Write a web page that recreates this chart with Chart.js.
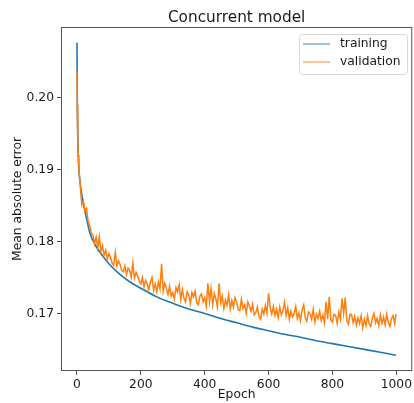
<!DOCTYPE html>
<html>
<head>
<meta charset="utf-8">
<script src="https://cdn.jsdelivr.net/npm/chart.js@4.4.0/dist/chart.umd.min.js"></script>
<style>
  html, body { margin: 0; padding: 0; background: #fff; }
  #wrap { width: 414px; height: 403px; }
</style>
</head>
<body>
<div id="wrap"><canvas id="myChart" width="414" height="403"></canvas></div>
<script>
// values
const trainEpoch = [0, 1, 2, 3, 4, 6, 9, 14, 20, 30, 41, 60, 82, 100, 130, 165, 200, 250, 300, 350,
    400, 450, 500, 550, 600, 650, 700, 750, 800, 850, 900, 950, 999];
const trainMae = [0.2076, 0.2000, 0.1962, 0.1938, 0.1920, 0.1900, 0.1885, 0.1868, 0.1853, 0.1832,
    0.1811, 0.1793, 0.1779, 0.1769, 0.1756, 0.1744, 0.1735, 0.1723, 0.1714, 0.1706,
    0.1700, 0.1693, 0.1687, 0.1681, 0.1676, 0.1671, 0.1667, 0.1662, 0.1658, 0.1654, 0.1650, 0.1646, 0.1642];

const valEpoch = [0, 1, 2, 3, 4, 6, 8,
    10, 15, 20, 25, 30, 35, 40, 45,
    50, 55, 60, 65, 70, 75, 80, 85, 90, 95,
    100, 105, 110, 115, 120, 125, 130, 135, 140, 145,
    150, 155, 160, 165, 170, 175, 180, 185, 190, 195,
    200, 205, 210, 215, 220, 225, 230, 235, 240, 245,
    250, 255, 260, 265, 270, 275, 280, 285, 290, 295,
    300, 305, 310, 315, 320, 325, 330, 335, 340, 345,
    350, 355, 360, 365, 370, 375, 380, 385, 390, 395,
    400, 405, 410, 415, 420, 425, 430, 435, 440, 445,
    450, 455, 460, 465, 470, 475, 480, 485, 490, 495,
    500, 505, 510, 515, 520, 525, 530, 535, 540, 545,
    550, 555, 560, 565, 570, 575, 580, 585, 590, 595,
    600, 605, 610, 615, 620, 625, 630, 635, 640, 645,
    650, 655, 660, 665, 670, 675, 680, 685, 690, 695,
    700, 705, 710, 715, 720, 725, 730, 735, 740, 745,
    750, 755, 760, 765, 770, 775, 780, 785, 790, 795,
    800, 805, 810, 815, 820, 825, 830, 835, 840, 845,
    850, 855, 860, 865, 870, 875, 880, 885, 890, 895,
    900, 905, 910, 915, 920, 925, 930, 935, 940, 945,
    950, 955, 960, 965, 970, 975, 980, 985, 990, 995, 999];
const valMae = [0.2036, 0.1990, 0.1958, 0.1935, 0.1920, 0.1902, 0.1890,
    0.1880, 0.1851, 0.1856, 0.1842, 0.1846, 0.1828, 0.1822, 0.1812,
    0.1809, 0.1797, 0.1806, 0.1791, 0.1807, 0.1786, 0.1794, 0.1781, 0.1788, 0.1776,
    0.1783, 0.1778, 0.1770, 0.1767, 0.1785, 0.1766, 0.1773, 0.1768, 0.1760, 0.1758,
    0.1766, 0.1754, 0.1763, 0.1760, 0.1750, 0.1770, 0.1749, 0.1757, 0.1752, 0.1745,
    0.1741, 0.1750, 0.1737, 0.1746, 0.1741, 0.1733, 0.1744, 0.1750, 0.1732, 0.1741,
    0.1730, 0.1744, 0.1734, 0.1769, 0.1731, 0.1742, 0.1735, 0.1726, 0.1738, 0.1724,
    0.1729, 0.1720, 0.1736, 0.1730, 0.1740, 0.1719, 0.1733, 0.1721, 0.1716, 0.1730,
    0.1726, 0.1714, 0.1729, 0.1723, 0.1731, 0.1715, 0.1712, 0.1724, 0.1727, 0.1716,
    0.1722, 0.1710, 0.1742, 0.1716, 0.1735, 0.1712, 0.1728, 0.1720, 0.1709, 0.1742,
    0.1715, 0.1724, 0.1707, 0.1719, 0.1711, 0.1726, 0.1706, 0.1718, 0.1709, 0.1722,
    0.1716, 0.1705, 0.1704, 0.1720, 0.1707, 0.1712, 0.1700, 0.1716, 0.1710, 0.1703,
    0.1713, 0.1698, 0.1701, 0.1709, 0.1696, 0.1692, 0.1706, 0.1699, 0.1711, 0.1700,
    0.1728, 0.1708, 0.1699, 0.1710, 0.1697, 0.1706, 0.1694, 0.1709, 0.1698, 0.1704,
    0.1716, 0.1697, 0.1708, 0.1692, 0.1703, 0.1695, 0.1700, 0.1710, 0.1693, 0.1701,
    0.1690, 0.1705, 0.1712, 0.1694, 0.1689, 0.1702, 0.1700, 0.1692, 0.1706, 0.1688,
    0.1699, 0.1693, 0.1703, 0.1690, 0.1698, 0.1687, 0.1716, 0.1692, 0.1723, 0.1691,
    0.1688, 0.1699, 0.1697, 0.1686, 0.1702, 0.1692, 0.1721, 0.1700, 0.1722, 0.1690,
    0.1685, 0.1699, 0.1698, 0.1687, 0.1696, 0.1684, 0.1694, 0.1686, 0.1697, 0.1680,
    0.1692, 0.1683, 0.1697, 0.1685, 0.1682, 0.1694, 0.1700, 0.1687, 0.1693, 0.1683,
    0.1698, 0.1686, 0.1695, 0.1684, 0.1699, 0.1687, 0.1682, 0.1693, 0.1697, 0.1686, 0.1699];

const xTicks = [0, 200, 400, 600, 800, 1000];
const yTicks = [0.17, 0.18, 0.19, 0.20];

const FONT = 'DejaVu Sans';
const TXT = '#1a1a1a';
const SPINE = '#555';

function pts(xs, ys) {
    return xs.map((x, i) => ({ x: x, y: ys[i] }));
}

// title, frame, axis titles and legend drawn matplotlib-style
const decor = {
    id: 'decor',
    afterDraw(chart) {
        const ctx = chart.ctx;
        const a = chart.chartArea;
        ctx.save();
        ctx.strokeStyle = SPINE;
        ctx.lineWidth = 1;
        ctx.strokeRect(a.left + 0.5, a.top + 0.5, a.right - a.left - 1, a.bottom - a.top - 1);

        ctx.fillStyle = TXT;
        ctx.textAlign = 'center';
        ctx.textBaseline = 'middle';
        ctx.font = '15.3px "' + FONT + '"';
        ctx.fillText('Concurrent model', (a.left + a.right) / 2, 18);

        ctx.font = '12.3px "' + FONT + '"';
        ctx.fillText('Epoch', (a.left + a.right) / 2, 395);
        ctx.save();
        ctx.translate(18, (a.top + a.bottom) / 2);
        ctx.rotate(-Math.PI / 2);
        ctx.fillText('Mean absolute error', 0, 0);
        ctx.restore();

        // legend
        const bx = 299.5, by = 34.5, bw = 108, bh = 40, r = 3;
        ctx.beginPath();
        ctx.moveTo(bx + r, by);
        ctx.arcTo(bx + bw, by, bx + bw, by + bh, r);
        ctx.arcTo(bx + bw, by + bh, bx, by + bh, r);
        ctx.arcTo(bx, by + bh, bx, by, r);
        ctx.arcTo(bx, by, bx + bw, by, r);
        ctx.closePath();
        ctx.fillStyle = 'rgba(255,255,255,0.8)';
        ctx.fill();
        ctx.strokeStyle = '#d6d6d6';
        ctx.stroke();

        ctx.textAlign = 'left';
        ctx.fillStyle = TXT;
        chart.data.datasets.forEach((ds, i) => {
            const y = 44 + i * 18;
            ctx.strokeStyle = ds.borderColor;
            ctx.globalAlpha = 0.6;
            ctx.lineWidth = 1.5;
            ctx.beginPath();
            ctx.moveTo(303, y);
            ctx.lineTo(330, y);
            ctx.stroke();
            ctx.globalAlpha = 1;
            ctx.fillText(ds.label, 340, y);
        });
        ctx.restore();
    }
};

const ctx = document.getElementById('myChart').getContext('2d');
const myChart = new Chart(ctx, {
    type: 'line',
    data: {
        datasets: [{
            label: 'training',
            data: pts(trainEpoch, trainMae),
            borderColor: '#1f77b4',
            borderWidth: 1.6,
            pointRadius: 0,
            cubicInterpolationMode: 'monotone',
            order: 2
        }, {
            label: 'validation',
            data: pts(valEpoch, valMae),
            borderColor: '#ff7f0e',
            borderWidth: 1.5,
            pointRadius: 0,
            tension: 0,
            order: 1
        }]
    },
    options: {
        responsive: false,
        animation: false,
        devicePixelRatio: 1,
        events: [],
        layout: { padding: { top: 27, right: 1, left: 0, bottom: 0 } },
        plugins: {
            legend: { display: false },
            title: { display: false },
            tooltip: { enabled: false }
        },
        scales: {
            x: {
                type: 'linear',
                min: -50,
                max: 1050,
                afterBuildTicks: (s) => { s.ticks = xTicks.map(v => ({ value: v })); },
                afterFit: (s) => { s.height = 32; },
                grid: { drawOnChartArea: false, drawTicks: true, tickLength: 4, color: SPINE },
                border: { display: false },
                ticks: {
                    color: TXT, font: { family: FONT, size: 12.3 }, padding: 2, maxRotation: 0,
                    callback: (v) => String(v)
                }
            },
            y: {
                type: 'linear',
                min: 0.1620,
                max: 0.2098,
                afterBuildTicks: (s) => { s.ticks = yTicks.map(v => ({ value: v })); },
                afterFit: (s) => { s.width = 61; },
                grid: { drawOnChartArea: false, drawTicks: true, tickLength: 4, color: SPINE },
                border: { display: false },
                ticks: {
                    color: TXT, font: { family: FONT, size: 12.3 }, padding: 3,
                    callback: (v) => v.toFixed(2)
                }
            }
        }
    },
    plugins: [decor]
});
</script>
</body>
</html>
